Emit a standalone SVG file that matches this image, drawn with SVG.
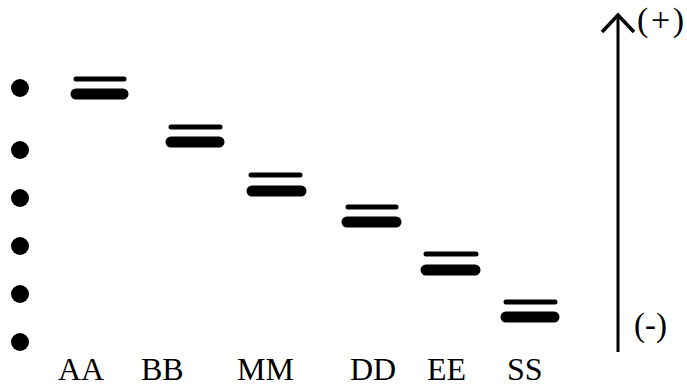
<svg xmlns="http://www.w3.org/2000/svg" width="687" height="387" viewBox="0 0 687 387">
  <style>
    .well { fill: #000; }
    .thin { stroke: #000; stroke-width: 5; stroke-linecap: round; }
    .thick { stroke: #000; stroke-width: 11; stroke-linecap: round; }
    .lbl { font-family: "Liberation Serif", "Times New Roman", serif; font-size: 32px; fill: #000; }
    .pol { font-family: "Liberation Serif", "Times New Roman", serif; fill: #000; }
  </style>
  <rect width="687" height="387" fill="#fff"/>

  <!-- loading wells -->
  <g id="wells">
    <circle class="well" cx="20" cy="88" r="9"/>
    <circle class="well" cx="20" cy="150" r="9"/>
    <circle class="well" cx="20" cy="198" r="9"/>
    <circle class="well" cx="20" cy="246" r="9"/>
    <circle class="well" cx="20" cy="294" r="9"/>
    <circle class="well" cx="20" cy="342" r="9"/>
  </g>

  <!-- band pairs per lane -->
  <g id="lane-AA">
    <line class="thin" x1="76" y1="79" x2="124" y2="79"/>
    <line class="thick" x1="76" y1="94" x2="123" y2="94"/>
    <text class="lbl" x="58" y="380">AA</text>
  </g>
  <g id="lane-BB">
    <line class="thin" x1="171" y1="127" x2="220" y2="127"/>
    <line class="thick" x1="171" y1="142" x2="219" y2="142"/>
    <text class="lbl" x="141" y="380">BB</text>
  </g>
  <g id="lane-MM">
    <line class="thin" x1="251" y1="175" x2="300" y2="175"/>
    <line class="thick" x1="252" y1="191" x2="301" y2="191"/>
    <text class="lbl" x="237" y="380">MM</text>
  </g>
  <g id="lane-DD">
    <line class="thin" x1="348" y1="207" x2="396" y2="207"/>
    <line class="thick" x1="347" y1="222" x2="396" y2="222"/>
    <text class="lbl" x="350" y="380">DD</text>
  </g>
  <g id="lane-EE">
    <line class="thin" x1="426" y1="254" x2="476" y2="254"/>
    <line class="thick" x1="426" y1="270" x2="475" y2="270"/>
    <text class="lbl" x="427" y="380">EE</text>
  </g>
  <g id="lane-SS">
    <line class="thin" x1="506" y1="302" x2="555" y2="302"/>
    <line class="thick" x1="506" y1="317" x2="554" y2="317"/>
    <text class="lbl" x="507" y="380">SS</text>
  </g>

  <!-- migration direction -->
  <g id="connectors">
    <line x1="618" y1="16" x2="618" y2="352" stroke="#000" stroke-width="3"/>
    <polyline points="602,32 618,15 634,32" fill="none" stroke="#000" stroke-width="3.5" stroke-linejoin="miter"/>
  </g>
  <g id="poles">
    <text class="pol" x="637" y="31" font-size="34" textLength="47" lengthAdjust="spacing">(+)</text>
    <text class="pol" x="634" y="336" font-size="33">(-)</text>
  </g>
</svg>
